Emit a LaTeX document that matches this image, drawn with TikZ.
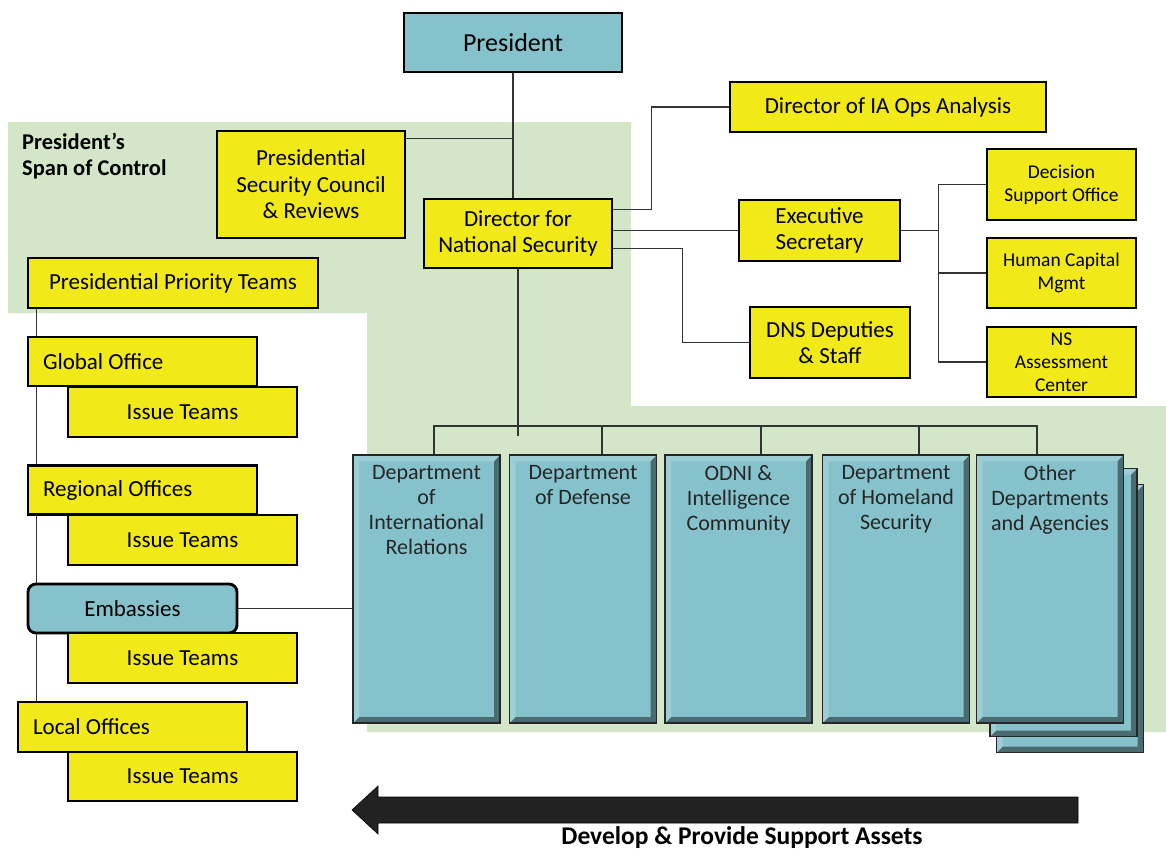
\documentclass[tikz,border=0pt]{standalone}
\usepackage{fontspec}
\setmainfont{Carlito}
\usetikzlibrary{positioning,calc}
\definecolor{orgYellow}{RGB}{242,234,24}
\definecolor{orgTeal}{RGB}{134,194,203}
\definecolor{spanGreen}{RGB}{212,230,200}
\definecolor{arrowDark}{RGB}{34,34,34}
\pgfdeclarelayer{bg}
\pgfdeclarelayer{wires}
\pgfsetlayers{bg,wires,main}

\tikzset{
  box/.style={draw=black,line width=2.8pt,inner sep=0pt,align=center,
    font=\fontsize{23}{26.5}\selectfont},
  yellowbox/.style={box,fill=orgYellow},
  tealbox/.style={box,fill=orgTeal},
  smallbox/.style={yellowbox,font=\fontsize{19.5}{23}\selectfont,
    minimum width=149pt,minimum height=70pt},
  officebox/.style={yellowbox,align=flush left,inner xsep=15pt,text width=199pt,
    minimum height=49pt},
  issuebox/.style={yellowbox,minimum width=229pt,minimum height=50pt},
  deptbox/.style={draw=black!85,line width=1.8pt,fill=orgTeal,inner sep=0pt,
    minimum width=147pt,minimum height=268pt,
    path picture={
      \fill[orgTeal!55!black]
        (path picture bounding box.north east) -- (path picture bounding box.south east)
        -- (path picture bounding box.south west)
        -- ([shift={(6pt,6pt)}]path picture bounding box.south west)
        -- ([shift={(-6pt,6pt)}]path picture bounding box.south east)
        -- ([shift={(-6pt,-6pt)}]path picture bounding box.north east) -- cycle;
      \fill[orgTeal!80!white]
        (path picture bounding box.north east) -- (path picture bounding box.north west)
        -- (path picture bounding box.south west)
        -- ([shift={(6pt,6pt)}]path picture bounding box.south west)
        -- ([shift={(6pt,-6pt)}]path picture bounding box.north west)
        -- ([shift={(-6pt,-6pt)}]path picture bounding box.north east) -- cycle;
    }},
  depttext/.style={align=center,inner sep=0pt,font=\fontsize{22}{25}\selectfont,
    text=black!85},
  link/.style={draw=black!80,line width=1.4pt},
}

\begin{document}
\begin{tikzpicture}[x=1pt,y=-1pt]
  \useasboundingbox (0,0) rectangle (1166,852);

  % span of control
  \begin{pgfonlayer}{bg}
    \fill[spanGreen] (8,122) -- (631,122) -- (631,406) -- (1166,406) -- (1166,732)
      -- (367,732) -- (367,313) -- (8,313) -- cycle;
  \end{pgfonlayer}
  \node[anchor=north west,align=left,inner sep=0pt,
    font=\fontsize{22.5}{25.5}\selectfont\bfseries] (spanLabel) at (22,133)
    {President’s\\Span of Control};

  % top of the chart
  \node[tealbox,minimum width=218pt,minimum height=59pt,
    font=\fontsize{26}{30}\selectfont] (pres) at (513,42.5) {President};
  \node[yellowbox,minimum width=316pt,minimum height=50pt] (iaops) at (888,107)
    {Director of IA Ops Analysis};
  \node[yellowbox,minimum width=188pt,minimum height=107pt] (psc) at (311,184.5)
    {Presidential\\Security Council\\\& Reviews};
  \node[yellowbox,minimum width=188pt,minimum height=69pt] (dns) at (518,233.5)
    {Director for\\National Security};
  \node[yellowbox,minimum width=161pt,minimum height=61pt] (exsec) at (819.5,230.5)
    {Executive\\Secretary};
  \node[yellowbox,minimum width=160pt,minimum height=71pt] (deputies) at (830,342.5)
    {DNS Deputies\\\& Staff};
  \node[smallbox,minimum height=71pt] (dso) at (1061.5,184.5) {Decision\\Support Office};
  \node[smallbox] (hcm) at (1061.5,273) {Human Capital\\Mgmt};
  \node[smallbox] (nsac) at (1061.5,362) {NS\\Assessment\\Center};

  % field offices
  \node[yellowbox,minimum width=290pt,minimum height=50pt] (ppt) at (173,283)
    {Presidential Priority Teams};
  \node[officebox] (global) at (142.5,361.5) {Global Office};
  \node[issuebox] (issue1) at (182.5,412) {Issue Teams};
  \node[officebox] (regional) at (142.5,490) {Regional Offices};
  \node[issuebox] (issue2) at (182.5,540) {Issue Teams};
  \node[tealbox,rounded corners=8pt,minimum width=209pt,minimum height=49pt] (emb)
    at (132.5,608.5) {Embassies};
  \node[issuebox] (issue3) at (182.5,658) {Issue Teams};
  \node[officebox,minimum height=50pt] (local) at (132.5,727) {Local Offices};
  \node[issuebox,minimum height=49pt] (issue4) at (182.5,776.5) {Issue Teams};

  % departments
  \node[deptbox] (otherBack2) at (1070,618.5) {};
  \node[deptbox] (otherBack1) at (1063.5,602.5) {};
  \foreach \nm/\cx/\txt in {dIR/426.5/{Department\\of\\International\\Relations},
      dDef/583/{Department\\of Defense},
      dODNI/738.5/{ODNI \&\\Intelligence\\Community},
      dDHS/896/{Department\\of Homeland\\Security},
      dOther/1050/{Other\\Departments\\and Agencies}} {
    \node[deptbox] (\nm) at (\cx,589) {};
    \node[depttext,below=11pt of \nm.north] (\nm-lbl) {\txt};
  }

  % support arrow
  \fill[arrowDark,draw=black,line width=0.6pt] (1078,797) -- (378,797) -- (378,786)
    -- (352,810) -- (378,834) -- (378,823) -- (1078,823) -- cycle;
  \node[font=\fontsize{25.5}{30}\selectfont\bfseries,inner sep=0pt] (assetsLabel)
    at (742,838) {Develop \& Provide Support Assets};

  % connectors
  \begin{pgfonlayer}{wires}
    \draw[link] (pres.south) -- (pres.south |- dns.north);
    \coordinate (pscTap) at ([yshift=-9pt]psc.north east);
    \draw[link] (pscTap) -- (pres.south |- pscTap);
    \draw[link] ([yshift=24pt]dns.east) -- ++(38,0) |- (iaops.west);
    \draw[link] (dns.east |- exsec.west) -- (exsec.west);
    \draw[link] ([yshift=-15pt]dns.east) -- ++(69,0) |- (deputies.west);
    \draw[link] (exsec.east) -- ++(37,0) coordinate (secBus);
    \draw[link] (secBus |- dso.west) -- (secBus |- nsac.west);
    \foreach \nm in {dso,hcm,nsac}
      \draw[link] (secBus |- \nm.west) -- (\nm.west);
    \draw[link] (dns.south) -- ++(0,167);
    \draw[link] ([xshift=7.5pt]dIR.north) -- ++(0,-28) -| ([xshift=-13pt]dOther.north);
    \foreach \nm/\dx in {dDef/19,dODNI/22.5,dDHS/23}
      \draw[link] ([xshift=\dx pt]\nm.north) -- ++(0,-28);
    \draw[link] ([xshift=10pt]ppt.south west) -- ([xshift=20pt]local.north west);
    \draw[link] (emb.east) -- (emb.east -| dIR.west);
  \end{pgfonlayer}
\end{tikzpicture}
\end{document}
